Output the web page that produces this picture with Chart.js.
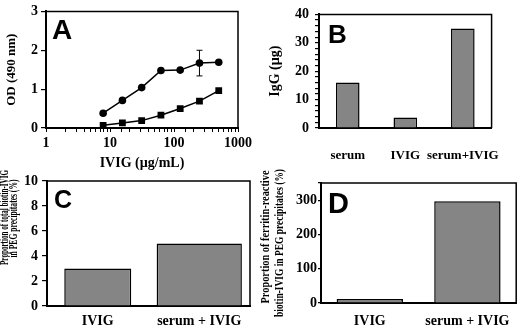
<!DOCTYPE html>
<html>
<head>
<meta charset="utf-8">
<script src="https://cdn.jsdelivr.net/npm/chart.js@4"></script>
<style>
  body{margin:0;background:#fff;}
  #wrap{position:relative;width:520px;height:329px;overflow:hidden;}
  canvas{position:absolute;left:0;top:0;}
</style>
</head>
<body>
<div id="wrap">
  <canvas id="cA" width="520" height="329"></canvas>
  <canvas id="cB" width="520" height="329"></canvas>
  <canvas id="cC" width="520" height="329"></canvas>
  <canvas id="cD" width="520" height="329"></canvas>
</div>
<script>
// panel A: OD vs IVIG concentration
const concA=[7.8125,15.625,31.25,62.5,125,250,500];
const odCircle=[0.38,0.71,1.04,1.48,1.49,1.67,1.69];
const errCircle=[0,0,0,0,0,0.33,0];
const odSquare=[0.07,0.13,0.19,0.33,0.5,0.69,0.96];
const ticksA=[1,10,100,1000];

// panel B
const catB=['serum','IVIG','serum+IVIG'];
const iggB=[16,3.7,35];

// panel C
const catC=['IVIG','serum + IVIG'];
const pctC=[3,5];

// panel D
const catD=['IVIG','serum + IVIG'];
const pctD=[12,297];

const SERIF='"Liberation Serif","Times New Roman",serif';
const tickFont={family:SERIF,weight:'bold',size:14};
const BAR='#858585';

// box frame, panel letter, multi-line y titles
const extras={
  id:'extras',
  afterDraw(chart,args,o){
    const ctx=chart.ctx,a=chart.chartArea;
    ctx.save();
    ctx.strokeStyle='#000';ctx.lineWidth=1.5;
    ctx.beginPath();ctx.moveTo(a.left,a.top);ctx.lineTo(a.right,a.top);ctx.lineTo(a.right,a.bottom);ctx.stroke();
    if(o.letter){
      ctx.fillStyle='#000';
      ctx.font='bold '+o.size+'px "Liberation Sans",Arial,sans-serif';
      ctx.textBaseline='alphabetic';ctx.textAlign='left';
      ctx.fillText(o.letter,a.left+o.dx,a.top+o.dy);
    }
    (o.lines||[]).forEach(l=>{
      ctx.save();
      ctx.translate(a.left+l.dx,(a.top+a.bottom)/2+l.dy);
      ctx.rotate(-Math.PI/2);
      ctx.font='bold '+(l.size||12)+'px '+SERIF;
      const w=ctx.measureText(l.text).width;
      ctx.scale(l.len/w,1);
      ctx.textAlign='center';ctx.textBaseline='middle';ctx.fillStyle='#000';
      ctx.fillText(l.text,0,0);
      ctx.restore();
    });
    ctx.restore();
  }
};

const errBars={
  id:'errBars',
  afterDatasetsDraw(chart,args,o){
    if(!o.err) return;
    const ctx=chart.ctx,x=chart.scales.x,y=chart.scales.y;
    ctx.save();ctx.strokeStyle='#000';ctx.lineWidth=1;
    o.err.forEach((e,i)=>{
      if(!e) return;
      const px=x.getPixelForValue(o.xs[i]);
      const y1=y.getPixelForValue(o.ys[i]-e),y2=y.getPixelForValue(o.ys[i]+e);
      ctx.beginPath();
      ctx.moveTo(px,y1);ctx.lineTo(px,y2);
      ctx.moveTo(px-3,y1);ctx.lineTo(px+3,y1);
      ctx.moveTo(px-3,y2);ctx.lineTo(px+3,y2);
      ctx.stroke();
    });
    ctx.restore();
  }
};

// place the chart area at l,t,r,b with fixed scale sizes
function layout(l,t,r,b,yW,xH){
  return {padding:{left:l-yW,top:t,right:520-r,bottom:329-b-xH}};
}
function yAxis(min,max,step,opts){
  return Object.assign({
    min:min,max:max,
    ticks:{stepSize:step,font:tickFont,color:'#000',padding:opts.pad,autoSkip:false,
      callback:v=>opts.every?(v%opts.every===0?v:''):v},
    grid:{drawOnChartArea:false,color:'#000',tickLength:opts.tl,lineWidth:1.2},
    border:{color:'#000',width:2},
    afterFit:s=>{s.width=opts.w;}
  },opts.extra||{});
}
function catAxis(pad,h,size){
  return {
    ticks:{font:{family:SERIF,weight:'bold',size:size||14},color:'#000',padding:pad,maxRotation:0,autoSkip:false},
    grid:{display:false,drawTicks:false},
    border:{display:true,color:'#000',width:2},
    afterFit:s=>{s.height=h;}
  };
}
const base={responsive:false,animation:false,events:[]};

// A
new Chart(document.getElementById('cA'),{
  type:'scatter',
  data:{datasets:[
    {data:concA.map((c,i)=>({x:c,y:odCircle[i]})),showLine:true,borderColor:'#000',borderWidth:1.5,
     pointStyle:'circle',pointRadius:3.8,pointBackgroundColor:'#000',pointBorderWidth:0},
    {data:concA.map((c,i)=>({x:c,y:odSquare[i]})),showLine:true,borderColor:'#000',borderWidth:1.5,
     pointStyle:'rect',pointRadius:4.8,pointBackgroundColor:'#000',pointBorderWidth:0}
  ]},
  options:Object.assign({},base,{
    layout:layout(46,7,238,128,46,45),
    plugins:{legend:{display:false},tooltip:{enabled:false},
      extras:{letter:'A',size:28,dx:6,dy:28},
      errBars:{err:errCircle,xs:concA,ys:odCircle}},
    scales:{
      x:{type:'logarithmic',min:1,max:1000,
        ticks:{font:tickFont,color:'#000',padding:3,autoSkip:false,maxRotation:0,
          callback:v=>ticksA.includes(v)?String(v):''},
        grid:{drawOnChartArea:false,color:'#000',tickLength:4,lineWidth:1},
        border:{color:'#000',width:2},
        title:{display:true,text:'IVIG (µg/mL)',font:{family:SERIF,weight:'bold',size:14},color:'#000',padding:{top:1,bottom:1}},
        afterFit:s=>{s.height=45;}},
      y:yAxis(0,3,1,{w:46,tl:5,pad:3,extra:{
        title:{display:true,text:'OD (490 nm)',font:{family:SERIF,weight:'bold',size:13},color:'#000',padding:{top:4,bottom:0}}}})
    }
  }),
  plugins:[extras,errBars]
});

// B
new Chart(document.getElementById('cB'),{
  type:'bar',
  data:{labels:catB,datasets:[{data:iggB,backgroundColor:BAR,borderColor:'#000',borderWidth:1.5,
    barPercentage:0.41,categoryPercentage:1}]},
  options:Object.assign({},base,{
    layout:layout(319,6,512,128,52,40),
    plugins:{legend:{display:false},tooltip:{enabled:false},extras:{letter:'B',size:26,dx:9,dy:29}},
    scales:{
      x:catAxis(20,40,13),
      y:yAxis(0,40,2,{w:52,tl:4,pad:6,every:10,extra:{
        title:{display:true,text:'IgG (µg)',font:{family:SERIF,weight:'bold',size:14},color:'#000',padding:{top:0,bottom:0}}}})
    }
  }),
  plugins:[extras]
});

// C
const widthsC=[0.66,0.84];
new Chart(document.getElementById('cC'),{
  type:'bar',
  data:{labels:catC,datasets:catC.map((c,i)=>({
    data:pctC.map((v,j)=>j===i?v:null),backgroundColor:BAR,borderColor:'#000',borderWidth:1.5,
    barPercentage:widthsC[i],categoryPercentage:1,grouped:false}))},
  options:Object.assign({},base,{
    layout:layout(47,181,250,306,47,23),
    plugins:{legend:{display:false},tooltip:{enabled:false},
      extras:{letter:'C',size:25,dx:7,dy:27,lines:[
        {text:'Proportion of total biotin-IVIG',dx:-42,dy:-26,len:95,size:13},
        {text:'in PEG precipitates (%)',dx:-33,dy:-25,len:78,size:13}]}},
    scales:{
      x:catAxis(7,23),
      y:yAxis(0,10,2,{w:47,tl:5,pad:4})
    }
  }),
  plugins:[extras]
});

// D
new Chart(document.getElementById('cD'),{
  type:'bar',
  data:{labels:catD,datasets:[{data:pctD,backgroundColor:BAR,borderColor:'#000',borderWidth:1.5,
    barPercentage:0.68,categoryPercentage:1}]},
  options:Object.assign({},base,{
    layout:layout(321,183,518,303,30,26),
    plugins:{legend:{display:false},tooltip:{enabled:false},
      extras:{letter:'D',size:29,dx:7,dy:30,lines:[
        {text:'Proportion of ferritin-reactive',dx:-55,dy:-6,len:133,size:12},
        {text:'biotin-IVIG in PEG precipitates (%)',dx:-41,dy:0,len:148,size:12}]}},
    scales:{
      x:catAxis(10,26),
      y:yAxis(0,350,100,{w:30,tl:3,pad:1,extra:{ticks:{stepSize:100,font:tickFont,color:'#000',padding:1,
        callback:v=>v%100===0?v:''}}})
    }
  }),
  plugins:[extras]
});
</script>
</body>
</html>
